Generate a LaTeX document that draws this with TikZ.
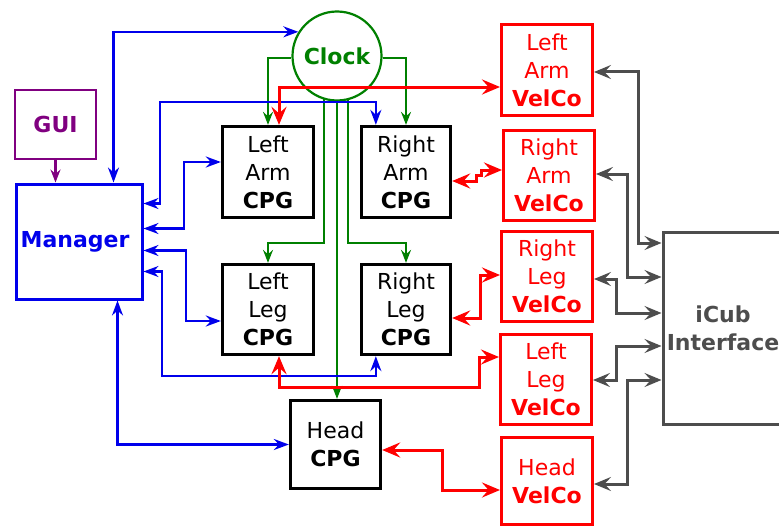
\documentclass[tikz,border=0pt]{standalone}
\usepackage{fontspec}
\setmainfont{DejaVu Sans}
\usetikzlibrary{arrows.meta,calc}
\definecolor{cgreen}{RGB}{0,128,0}
\definecolor{cblue}{RGB}{0,0,235}
\definecolor{cpurple}{RGB}{128,0,128}
\definecolor{cred}{RGB}{255,0,0}
\definecolor{cgray}{RGB}{77,77,77}
\begin{document}
\begin{tikzpicture}[x=1pt,y=-1pt,
 every node/.style={font=\fontsize{22}{28}\selectfont, align=center, inner sep=0pt},
 sz/.style 2 args={minimum width=#1pt, minimum height=#2pt},
 cpgbox/.style={draw=black, line width=3.3pt},
 velbox/.style={draw=cred, text=cred, line width=3pt},
 bl/.style={draw=cblue, line width=2.4pt, <->, >={Stealth[length=15pt,width=11pt,inset=5pt]}},
 gr/.style={draw=cgreen, line width=2pt, ->, >={Stealth[length=13pt,width=10pt,inset=4.5pt]}},
 pu/.style={draw=cpurple, line width=2.3pt, ->, >={Stealth[length=13pt,width=10pt,inset=4.5pt]}},
 rd/.style={draw=cred, line width=3pt, <->, >={Stealth[length=18pt,width=15pt,inset=6.5pt]}},
 gy/.style={draw=cgray, line width=3pt, <->, >={Stealth[length=17pt,width=14pt,inset=6.5pt]}},
]
\useasboundingbox (0,0) rectangle (779,527);
\clip (0,0) rectangle (779,527);

% nodes
\node[draw=cgreen, text=cgreen, line width=2.2pt, circle, minimum size=89pt,
      font=\fontsize{22}{28}\selectfont\bfseries] (clk) at (337,56) {Clock};
\node[draw=cpurple, text=cpurple, line width=2.2pt, sz={81}{69},
      font=\fontsize{22}{28}\selectfont\bfseries] (gui) at (55.5,124.5) {GUI};
\node[draw=cblue, text=cblue, line width=3pt, sz={126}{115},
      font=\fontsize{22}{28}\selectfont\bfseries] (man) at (79,241.5) {\hspace*{-8pt}Manager};

\node[cpgbox, sz={91}{91}] (lac) at (268,172) {Left\\Arm\\\textbf{CPG}};
\node[cpgbox, sz={89}{91}] (rac) at (406,172) {Right\\Arm\\\textbf{CPG}};
\node[cpgbox, sz={91}{90}] (llc) at (268,309.5) {Left\\Leg\\\textbf{CPG}};
\node[cpgbox, sz={89}{90}] (rlc) at (406,309.5) {Right\\Leg\\\textbf{CPG}};
\node[cpgbox, sz={90}{88}] (hc) at (335.5,444.5) {Head\\\textbf{CPG}};

\node[velbox, sz={91}{91}] (lav) at (547,70) {Left\\Arm\\\textbf{VelCo}};
\node[velbox, sz={91}{90}] (rav) at (549,175.5) {Right\\Arm\\\textbf{VelCo}};
\node[velbox, sz={91}{90}] (rlv) at (547,276.5) {Right\\Leg\\\textbf{VelCo}};
\node[velbox, sz={91}{90}] (llv) at (546,379.5) {Left\\Leg\\\textbf{VelCo}};
\node[velbox, sz={91}{87}] (hv) at (547,481) {Head\\\textbf{VelCo}};

\node[draw=cgray, text=cgray, line width=3pt, sz={120}{192},
      font=\fontsize{22}{28}\selectfont\bfseries] (icub) at (723,328.5) {iCub\\Interface};

% purple
\draw[pu] (gui.south) -- (gui.south |- man.north);

% green
\draw[gr] (clk.182) -| (lac.north);
\draw[gr] (clk.358) -| (rac.north);
\draw[gr] ($(clk.south)+(-13,-3)$) -- ++(0,144) -| (llc.north);
\draw[gr] ($(clk.south)+(0,-1)$) -- (clk.south |- hc.north);
\draw[gr] ($(clk.south)+(11,-3)$) -- ++(0,144) -| (rlc.north);

% blue
\draw[bl] ($(man.north west)+(99,0)$) |- (clk.148);
\draw[bl] ($(man.north east)+(0,21)$) -| (160,102) -| ($(rac.north west)+(16,0)$);
\draw[bl] ($(man.north east)+(0,46)$) -| (184,162) -- ($(lac.west)+(0,-10)$);
\draw[bl] ($(man.north east)+(0,68)$) -| (186,321) -- ($(llc.west)+(0,11.5)$);
\draw[bl] ($(man.north east)+(0,89)$) -| (162,376) -| ($(rlc.south west)+(16,0)$);
\draw[bl] ($(man.south west)+(103,0)$) |- (hc.west);

% red
\draw[rd] ($(lac.north)+(11,0)$) |- ($(lav.west)+(0,17)$);
\draw[rd] ($(rac.east)+(0,9)$) -- (476,181) -- (476,175) -- (481,175) -- (481,170) -- ($(rav.west)+(0,-5.5)$);
\draw[rd] ($(rlc.east)+(0,8.5)$) -| (480,275) -- ($(rlv.west)+(0,-1.5)$);
\draw[rd] ($(llc.south)+(11,0)$) |- (479,387) |- ($(llv.west)+(0,-22.5)$);
\draw[rd] ($(hc.east)+(0,5.5)$) -| (442,490) -- ($(hv.west)+(0,9)$);

% gray
\draw[gy] ($(lav.east)+(0,2)$) -| (638,243) -- ($(icub.west)+(0,-85.5)$);
\draw[gy] ($(rav.east)+(0,-1.5)$) -| (627,277) -- ($(icub.west)+(0,-51.5)$);
\draw[gy] ($(rlv.east)+(0,2.5)$) -| (616,313) -- ($(icub.west)+(0,-15.5)$);
\draw[gy] ($(llv.east)+(0,0.5)$) -| (616,346) -- ($(icub.west)+(0,17.5)$);
\draw[gy] ($(hv.east)+(0,3)$) -| (627,380) -- ($(icub.west)+(0,51.5)$);
\end{tikzpicture}
\end{document}
